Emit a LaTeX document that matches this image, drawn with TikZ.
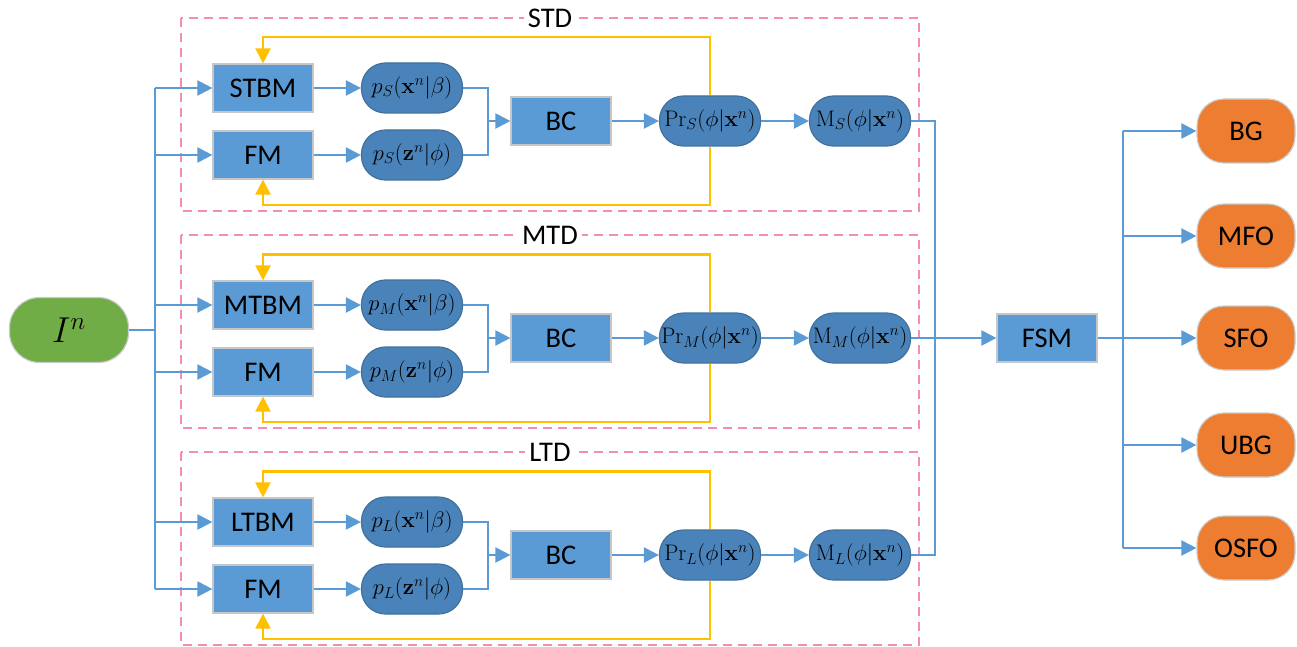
\RequirePackage{fix-cm}
\documentclass[tikz,border=0pt]{standalone}
\usepackage[no-math]{fontspec}
\setmainfont{Carlito}
\usetikzlibrary{arrows.meta}
\definecolor{boxblue}{HTML}{5B9BD5}
\definecolor{pillblue}{HTML}{4A83B9}
\definecolor{pillborder}{HTML}{41719C}
\definecolor{lineblue}{HTML}{5B9BD5}
\definecolor{fbyellow}{HTML}{FFC000}
\definecolor{grpink}{HTML}{F48BB8}
\definecolor{outorange}{HTML}{ED7D31}
\definecolor{ingreen}{HTML}{70AD47}
\begin{document}
\begin{tikzpicture}[x=1pt,y=-1pt,
  sq/.style={draw=black!22, line width=1.2pt, fill=boxblue, minimum width=100pt, minimum height=48pt, inner sep=0pt, font=\fontsize{28.5}{30}\selectfont},
  pill/.style={draw=pillborder, line width=1.2pt, fill=pillblue, rounded corners=24pt, minimum width=101pt, minimum height=50pt, inner sep=0pt, font=\fontsize{22.5}{24}\selectfont},
  outnode/.style={draw=black!20, line width=1.2pt, fill=outorange, rounded corners=27pt, minimum width=98pt, minimum height=64pt, inner sep=0pt, font=\fontsize{28.5}{30}\selectfont},
  innode/.style={draw=black!20, line width=1.2pt, fill=ingreen, rounded corners=30pt, minimum width=119pt, minimum height=65pt, inner sep=0pt, font=\fontsize{36}{38}\selectfont},
  link/.style={draw=lineblue, line width=2.2pt},
  conn/.style={draw=lineblue, line width=2.2pt, -{Triangle[length=15pt,width=15pt]}},
  fb/.style={draw=fbyellow, line width=2.2pt, -{Triangle[length=15pt,width=15pt]}},
  grp/.style={draw=grpink, line width=1.3pt, dash pattern=on 9pt off 6pt},
  grplabel/.style={fill=white, inner sep=4pt, font=\fontsize{28.5}{30}\selectfont}
]
\useasboundingbox (0,0) rectangle (1297,647);

% input
\node[innode] (in) at (69,330) {$I^n$};
\coordinate (bus) at (155,330);

\foreach \r/\oy in {S/0, M/217, L/434} {
  \draw[grp] (181,18+\oy) rectangle (919,211+\oy);
  \node[grplabel] (g\r) at (550,18+\oy) {\r TD};
  \node[sq] (tb\r) at (263,88+\oy) {\r TBM};
  \node[sq] (fm\r) at (263,155+\oy) {FM};
  \node[pill] (px\r) at (412,88+\oy) {$p_{\r}(\mathbf{x}^n|\beta)$};
  \node[pill] (pz\r) at (412,155+\oy) {$p_{\r}(\mathbf{z}^n|\phi)$};
  \node[sq] (bc\r) at (561,121+\oy) {BC};
  \node[pill] (pr\r) at (710,121+\oy) {$\mathrm{Pr}_{\r}(\phi|\mathbf{x}^n)$};
  \node[pill] (m\r) at (860,121+\oy) {$\mathrm{M}_{\r}(\phi|\mathbf{x}^n)$};
  \coordinate (mg\r) at (488,121+\oy);
  \draw[conn] (tb\r.west -| bus) -- (tb\r.west);
  \draw[conn] (fm\r.west -| bus) -- (fm\r.west);
  \draw[conn] (tb\r) -- (px\r);
  \draw[conn] (fm\r) -- (pz\r);
  \draw[link] (px\r.east) -| (mg\r);
  \draw[link] (pz\r.east) -| (mg\r);
  \draw[conn] (mg\r) -- (bc\r.west);
  \draw[conn] (bc\r) -- (pr\r);
  \draw[conn] (pr\r) -- (m\r);
  \draw[fb] (pr\r.north) -- ++(0,-58) -| (tb\r.north);
  \draw[fb] (pr\r.south) -- ++(0,58) -| (fm\r.south);
}

\draw[link] (in.east) -- (bus);
\draw[link] (tbS.west -| bus) -- (fmL.west -| bus);

% fusion
\node[sq] (fsm) at (1047,338) {FSM};
\coordinate (jn) at (935,338);
\draw[link] (mS.east) -| (jn);
\draw[link] (mL.east) -| (jn);
\draw[conn] (mM.east) -- (fsm.west);

% outputs
\node[outnode] (bg) at (1246,131) {BG};
\node[outnode] (mfo) at (1246,236) {MFO};
\node[outnode] (sfo) at (1246,338) {SFO};
\node[outnode] (ubg) at (1246,445) {UBG};
\node[outnode] (osfo) at (1246,548) {OSFO};
\coordinate (rb) at (1123,338);
\draw[link] (fsm.east) -- (rb);
\draw[link] (bg.west -| rb) -- (osfo.west -| rb);
\foreach \o in {bg,mfo,sfo,ubg,osfo} {
  \draw[conn] (\o.west -| rb) -- (\o.west);
}
\end{tikzpicture}
\end{document}
